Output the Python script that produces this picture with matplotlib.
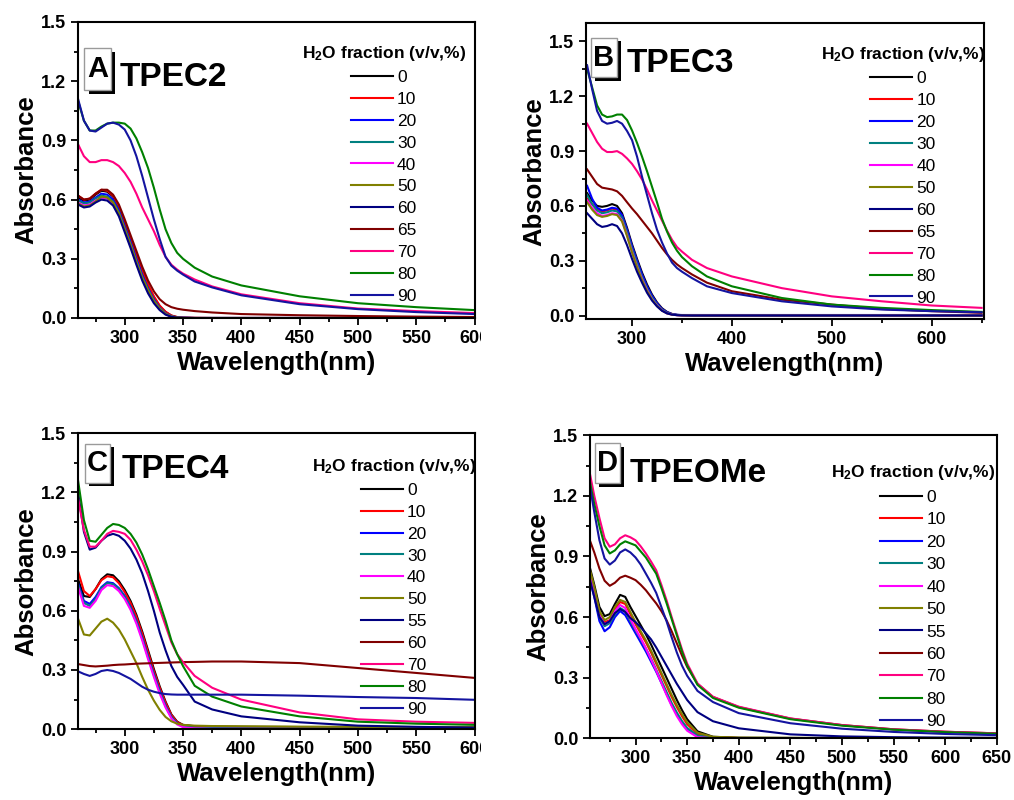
import numpy as np
import matplotlib
matplotlib.use('Agg')
import matplotlib.pyplot as plt
import matplotlib.patheffects as pe
from matplotlib.patches import Rectangle
from matplotlib.ticker import MultipleLocator
from matplotlib.transforms import Bbox

plt.rcParams['font.family'] = ['Liberation Sans', 'DejaVu Sans']
plt.rcParams['mathtext.default'] = 'regular'

# line colours (same order in every panel)
colors = ['#000000', '#FF0000', '#0000FF', '#008080', '#FF00FF', '#808000',
          '#000080', '#800000', '#FF0080', '#008000', '#1414A0']

labels_ab = ['0', '10', '20', '30', '40', '50', '60', '65', '70', '80', '90']
labels_cd = ['0', '10', '20', '30', '40', '50', '55', '60', '70', '80', '90']

# wavelength grids (nm)
wl_ac = [260, 265, 270, 275, 280, 285, 290, 295, 300, 305, 310, 315, 320, 325,
         330, 335, 340, 345, 350, 360, 375, 400, 450, 500, 550, 600]
wl_bd = [255, 260, 265, 270, 275, 280, 285, 290, 295, 300, 305, 310, 315, 320,
         325, 330, 335, 340, 345, 350, 360, 375, 400, 450, 500, 550, 600, 650]

#A TPEC2
a_0 = [0.61, 0.595, 0.60, 0.625, 0.645, 0.64, 0.615, 0.56, 0.48, 0.40, 0.315, 0.235, 0.165, 0.105,
       0.06, 0.03, 0.012, 0.004, 0.001, 0, 0, 0, 0, 0, 0, 0]
a_10 = [0.62, 0.60, 0.605, 0.63, 0.65, 0.645, 0.62, 0.565, 0.485, 0.405, 0.32, 0.24, 0.17, 0.11,
        0.063, 0.032, 0.013, 0.005, 0.002, 0.001, 0, 0, 0, 0, 0, 0]
a_20 = [0.60, 0.585, 0.59, 0.61, 0.63, 0.625, 0.60, 0.545, 0.465, 0.385, 0.30, 0.22, 0.15, 0.095,
        0.052, 0.024, 0.009, 0.003, 0.001, 0, 0, 0, 0, 0, 0, 0]
a_30 = [0.595, 0.58, 0.585, 0.605, 0.62, 0.615, 0.59, 0.535, 0.455, 0.375, 0.29, 0.21, 0.145, 0.09,
        0.05, 0.023, 0.008, 0.003, 0.001, 0, 0, 0, 0, 0, 0, 0]
a_40 = [0.585, 0.57, 0.575, 0.595, 0.61, 0.605, 0.58, 0.525, 0.445, 0.365, 0.28, 0.20, 0.135, 0.083,
        0.045, 0.02, 0.007, 0.002, 0.001, 0, 0, 0, 0, 0, 0, 0]
a_50 = [0.58, 0.565, 0.57, 0.59, 0.615, 0.61, 0.585, 0.53, 0.45, 0.37, 0.285, 0.205, 0.14, 0.086,
        0.047, 0.021, 0.008, 0.003, 0.001, 0, 0, 0, 0, 0, 0, 0]
a_60 = [0.575, 0.56, 0.565, 0.585, 0.60, 0.595, 0.57, 0.515, 0.435, 0.355, 0.27, 0.19, 0.125, 0.075,
        0.04, 0.017, 0.006, 0.002, 0.001, 0, 0, 0, 0, 0, 0, 0]
a_65 = [0.62, 0.60, 0.605, 0.63, 0.65, 0.65, 0.625, 0.575, 0.50, 0.42, 0.34, 0.26, 0.19, 0.135,
        0.095, 0.07, 0.055, 0.047, 0.042, 0.035, 0.028, 0.02, 0.014, 0.01, 0.007, 0.005]
a_70 = [0.88, 0.82, 0.79, 0.79, 0.80, 0.80, 0.79, 0.77, 0.735, 0.69, 0.63, 0.56, 0.50, 0.44,
        0.37, 0.31, 0.27, 0.245, 0.225, 0.195, 0.16, 0.12, 0.075, 0.048, 0.035, 0.025]
a_80 = [1.10, 1.00, 0.95, 0.95, 0.97, 0.985, 0.99, 0.99, 0.985, 0.96, 0.91, 0.84, 0.76, 0.66,
        0.55, 0.45, 0.38, 0.33, 0.30, 0.255, 0.21, 0.165, 0.11, 0.075, 0.055, 0.04]
a_90 = [1.11, 1.00, 0.95, 0.945, 0.965, 0.985, 0.99, 0.98, 0.955, 0.90, 0.82, 0.72, 0.61, 0.50,
        0.40, 0.31, 0.265, 0.24, 0.22, 0.185, 0.155, 0.115, 0.07, 0.045, 0.03, 0.02]

#B TPEC3
b_0 = [0.67, 0.63, 0.60, 0.595, 0.60, 0.61, 0.60, 0.56, 0.48, 0.39, 0.31, 0.235, 0.17, 0.115,
       0.072, 0.04, 0.02, 0.009, 0.004, 0.002, 0.001, 0.001, 0.001, 0.001, 0.001, 0.001, 0.001, 0.001]
b_10 = [0.64, 0.61, 0.58, 0.57, 0.575, 0.585, 0.58, 0.545, 0.465, 0.375, 0.295, 0.22, 0.155, 0.105,
        0.065, 0.035, 0.017, 0.007, 0.003, 0.001, 0, 0, 0, 0, 0, 0, 0, 0]
b_20 = [0.71, 0.64, 0.59, 0.575, 0.58, 0.59, 0.585, 0.55, 0.47, 0.38, 0.30, 0.225, 0.16, 0.108,
        0.067, 0.036, 0.018, 0.008, 0.004, 0.003, 0.003, 0.003, 0.003, 0.003, 0.003, 0.003, 0.003, 0.003]
b_30 = [0.66, 0.61, 0.575, 0.56, 0.565, 0.575, 0.57, 0.535, 0.455, 0.365, 0.285, 0.21, 0.148, 0.098,
        0.06, 0.032, 0.015, 0.006, 0.003, 0.001, 0, 0, 0, 0, 0, 0, 0, 0]
b_40 = [0.63, 0.59, 0.56, 0.545, 0.55, 0.56, 0.555, 0.52, 0.44, 0.35, 0.27, 0.20, 0.14, 0.09,
        0.055, 0.028, 0.012, 0.005, 0.002, 0.001, 0, 0, 0, 0, 0, 0, 0, 0]
b_50 = [0.62, 0.58, 0.55, 0.54, 0.545, 0.555, 0.55, 0.515, 0.435, 0.345, 0.265, 0.195, 0.135, 0.088,
        0.053, 0.027, 0.012, 0.005, 0.002, 0.001, 0, 0, 0, 0, 0, 0, 0, 0]
b_60 = [0.56, 0.53, 0.50, 0.485, 0.49, 0.50, 0.49, 0.45, 0.385, 0.31, 0.24, 0.18, 0.125, 0.082,
        0.05, 0.026, 0.012, 0.005, 0.002, 0.001, 0, 0, 0, 0, 0, 0, 0, 0]
b_65 = [0.80, 0.76, 0.72, 0.70, 0.695, 0.69, 0.68, 0.655, 0.62, 0.586, 0.555, 0.52, 0.485, 0.45,
        0.41, 0.37, 0.335, 0.305, 0.28, 0.26, 0.225, 0.18, 0.133, 0.087, 0.06, 0.036, 0.024, 0.015]
b_70 = [1.05, 1.0, 0.95, 0.913, 0.895, 0.895, 0.90, 0.885, 0.86, 0.83, 0.79, 0.745, 0.69, 0.63,
        0.575, 0.52, 0.465, 0.415, 0.375, 0.35, 0.305, 0.26, 0.214, 0.15, 0.105, 0.078, 0.055, 0.042]
b_80 = [1.35, 1.25, 1.15, 1.10, 1.086, 1.09, 1.10, 1.10, 1.07, 1.013, 0.945, 0.87, 0.79, 0.705,
        0.62, 0.53, 0.46, 0.40, 0.355, 0.32, 0.27, 0.214, 0.16, 0.096, 0.06, 0.042, 0.03, 0.02]
b_90 = [1.37, 1.24, 1.12, 1.065, 1.05, 1.055, 1.065, 1.05, 1.01, 0.96, 0.87, 0.76, 0.66, 0.56,
        0.47, 0.40, 0.34, 0.29, 0.26, 0.24, 0.205, 0.16, 0.123, 0.078, 0.05, 0.033, 0.024, 0.018]

#C TPEC4
c_0 = [0.76, 0.675, 0.67, 0.71, 0.76, 0.785, 0.78, 0.75, 0.705, 0.65, 0.58, 0.495, 0.40, 0.305,
       0.217, 0.14, 0.075, 0.038, 0.022, 0.015, 0.013, 0.012, 0.011, 0.01, 0.01, 0.01]
c_10 = [0.80, 0.70, 0.675, 0.71, 0.755, 0.775, 0.77, 0.74, 0.695, 0.64, 0.57, 0.485, 0.39, 0.295,
        0.21, 0.135, 0.072, 0.036, 0.02, 0.014, 0.012, 0.011, 0.01, 0.01, 0.01, 0.01]
c_20 = [0.74, 0.65, 0.635, 0.67, 0.72, 0.745, 0.74, 0.715, 0.675, 0.62, 0.55, 0.465, 0.37, 0.28,
        0.195, 0.12, 0.062, 0.03, 0.015, 0.008, 0.006, 0.005, 0.004, 0.004, 0.004, 0.004]
c_30 = [0.73, 0.64, 0.625, 0.66, 0.715, 0.74, 0.735, 0.71, 0.67, 0.615, 0.545, 0.46, 0.365, 0.275,
        0.19, 0.117, 0.06, 0.028, 0.014, 0.007, 0.005, 0.004, 0.004, 0.004, 0.004, 0.004]
c_40 = [0.72, 0.625, 0.615, 0.65, 0.705, 0.73, 0.725, 0.70, 0.66, 0.605, 0.535, 0.45, 0.355, 0.265,
        0.18, 0.11, 0.055, 0.024, 0.01, 0.004, 0.002, 0.002, 0.002, 0.002, 0.002, 0.002]
c_50 = [0.56, 0.48, 0.475, 0.51, 0.545, 0.56, 0.54, 0.505, 0.455, 0.395, 0.335, 0.265, 0.20, 0.145,
        0.098, 0.062, 0.04, 0.028, 0.022, 0.018, 0.016, 0.015, 0.013, 0.012, 0.011, 0.01]
c_55 = [1.20, 1.0, 0.91, 0.92, 0.955, 0.98, 0.99, 0.98, 0.955, 0.915, 0.86, 0.79, 0.70, 0.60,
        0.49, 0.40, 0.32, 0.265, 0.225, 0.14, 0.10, 0.065, 0.035, 0.018, 0.012, 0.008]
c_60 = [0.33, 0.325, 0.32, 0.318, 0.32, 0.322, 0.325, 0.327, 0.328, 0.33, 0.332, 0.333, 0.334, 0.335,
        0.336, 0.337, 0.338, 0.339, 0.34, 0.341, 0.343, 0.343, 0.335, 0.31, 0.285, 0.26]
c_70 = [1.17, 1.01, 0.925, 0.925, 0.955, 0.99, 1.005, 1.0, 0.99, 0.96, 0.91, 0.85, 0.78, 0.70,
        0.61, 0.525, 0.44, 0.38, 0.34, 0.27, 0.21, 0.15, 0.085, 0.05, 0.038, 0.032]
c_80 = [1.26, 1.06, 0.955, 0.95, 0.985, 1.02, 1.04, 1.035, 1.02, 0.99, 0.946, 0.885, 0.81, 0.725,
        0.64, 0.55, 0.45, 0.38, 0.32, 0.22, 0.165, 0.115, 0.065, 0.038, 0.028, 0.022]
c_90 = [0.293, 0.28, 0.27, 0.28, 0.295, 0.30, 0.295, 0.285, 0.27, 0.255, 0.235, 0.215, 0.20, 0.19,
        0.183, 0.178, 0.176, 0.175, 0.175, 0.175, 0.175, 0.175, 0.17, 0.163, 0.158, 0.149]

#D TPEOMe
d_0 = [0.86, 0.76, 0.65, 0.605, 0.615, 0.665, 0.71, 0.70, 0.65, 0.605, 0.56, 0.515, 0.465, 0.41,
       0.355, 0.30, 0.245, 0.19, 0.14, 0.095, 0.035, 0.008, 0.003, 0.002, 0.001, 0.001, 0.001, 0.001]
d_10 = [0.84, 0.74, 0.62, 0.575, 0.585, 0.635, 0.675, 0.665, 0.615, 0.565, 0.52, 0.475, 0.425, 0.37,
        0.315, 0.26, 0.205, 0.155, 0.11, 0.07, 0.022, 0.005, 0.002, 0.001, 0.001, 0.001, 0.001, 0.001]
d_20 = [0.80, 0.70, 0.58, 0.53, 0.55, 0.60, 0.63, 0.61, 0.565, 0.52, 0.475, 0.43, 0.38, 0.33,
        0.275, 0.22, 0.165, 0.12, 0.08, 0.048, 0.012, 0.003, 0.001, 0.001, 0.001, 0.001, 0.001, 0.001]
d_30 = [0.82, 0.72, 0.60, 0.555, 0.57, 0.615, 0.645, 0.63, 0.58, 0.535, 0.49, 0.445, 0.395, 0.34,
        0.285, 0.23, 0.175, 0.128, 0.086, 0.052, 0.014, 0.003, 0.001, 0.001, 0.001, 0.001, 0.001, 0.001]
d_40 = [0.83, 0.73, 0.61, 0.565, 0.58, 0.63, 0.66, 0.645, 0.59, 0.54, 0.495, 0.445, 0.39, 0.335,
        0.275, 0.215, 0.16, 0.11, 0.07, 0.038, 0.006, 0.001, 0, 0, 0, 0, 0, 0]
d_50 = [0.85, 0.75, 0.63, 0.585, 0.60, 0.65, 0.685, 0.675, 0.625, 0.575, 0.53, 0.485, 0.435, 0.38,
        0.325, 0.27, 0.215, 0.165, 0.12, 0.08, 0.028, 0.008, 0.004, 0.003, 0.002, 0.002, 0.002, 0.002]
d_55 = [0.80, 0.70, 0.60, 0.565, 0.58, 0.62, 0.64, 0.625, 0.595, 0.575, 0.55, 0.52, 0.49, 0.45,
        0.405, 0.36, 0.315, 0.27, 0.23, 0.19, 0.13, 0.085, 0.05, 0.02, 0.01, 0.006, 0.004, 0.003]
d_60 = [0.99, 0.92, 0.84, 0.78, 0.755, 0.77, 0.795, 0.805, 0.795, 0.783, 0.76, 0.733, 0.70, 0.668,
        0.63, 0.585, 0.53, 0.47, 0.41, 0.354, 0.27, 0.205, 0.155, 0.098, 0.066, 0.045, 0.033, 0.025]
d_70 = [1.33, 1.20, 1.09, 0.99, 0.948, 0.96, 0.99, 1.005, 0.995, 0.98, 0.95, 0.915, 0.875, 0.832,
        0.76, 0.684, 0.60, 0.52, 0.44, 0.37, 0.272, 0.206, 0.157, 0.099, 0.066, 0.045, 0.033, 0.025]
d_80 = [1.29, 1.16, 1.05, 0.955, 0.915, 0.93, 0.96, 0.975, 0.965, 0.955, 0.925, 0.895, 0.855, 0.815,
        0.745, 0.67, 0.59, 0.51, 0.43, 0.36, 0.265, 0.20, 0.152, 0.095, 0.063, 0.043, 0.031, 0.023]
d_90 = [1.27, 1.12, 0.98, 0.89, 0.86, 0.88, 0.92, 0.935, 0.92, 0.895, 0.86, 0.815, 0.77, 0.72,
        0.65, 0.58, 0.50, 0.425, 0.36, 0.31, 0.235, 0.18, 0.125, 0.075, 0.048, 0.032, 0.022, 0.016]

a_curves = [a_0, a_10, a_20, a_30, a_40, a_50, a_60, a_65, a_70, a_80, a_90]
b_curves = [b_0, b_10, b_20, b_30, b_40, b_50, b_60, b_65, b_70, b_80, b_90]
c_curves = [c_0, c_10, c_20, c_30, c_40, c_50, c_55, c_60, c_70, c_80, c_90]
d_curves = [d_0, d_10, d_20, d_30, d_40, d_50, d_55, d_60, d_70, d_80, d_90]


def draw_panel(rect, wl, curves, labels, letter, name, xlim, ylim, xmaj, xmin,
               box, name_pos, leg_pos, spacing=0.39, clip_right=None):
    ax = fig.add_axes(rect)
    for y, c, lab in zip(curves, colors, labels):
        ax.plot(wl, y, color=c, lw=1.5, label=lab)
    ax.set_xlim(xlim)
    ax.set_ylim(ylim)
    ax.xaxis.set_major_locator(MultipleLocator(xmaj))
    ax.xaxis.set_minor_locator(MultipleLocator(xmin))
    ax.yaxis.set_minor_locator(MultipleLocator(0.15))
    ax.set_yticks(np.arange(0, 1.51, 0.3))
    ax.yaxis.set_major_formatter(plt.FormatStrFormatter('%.1f'))
    ax.tick_params(which='both', direction='out', top=False, right=False, width=1.3)
    ax.tick_params(which='major', length=5, labelsize=13)
    ax.tick_params(which='minor', length=3)
    for lab in ax.get_xticklabels() + ax.get_yticklabels():
        lab.set_fontweight('bold')
    for s in ax.spines.values():
        s.set_linewidth(1.5)
    ax.set_xlabel('Wavelength(nm)', fontsize=18.5, fontweight='bold', labelpad=3)
    ax.set_ylabel('Absorbance', fontsize=18.5, fontweight='bold', labelpad=2)

    # letter in a shadowed box
    r = Rectangle((box[0], box[1]), box[2], box[3], transform=ax.transAxes,
                  fc='white', ec='#9a9a9a', lw=1, zorder=5)
    r.set_path_effects([pe.SimplePatchShadow(offset=(3, -2.5), shadow_rgbFace='k', alpha=1),
                        pe.Normal()])
    ax.add_patch(r)
    ax.text(box[0] + box[2] / 2, box[1] + box[3] / 2, letter, transform=ax.transAxes,
            ha='center', va='center', fontsize=21, fontweight='bold', zorder=6)
    ax.text(name_pos[0], name_pos[1], name, transform=ax.transAxes, ha='left',
            va='baseline', fontsize=24, fontweight='bold', zorder=6)

    ax.legend(loc='upper center', bbox_to_anchor=leg_pos, frameon=False,
              title='H$_2$O fraction (v/v,%)',
              title_fontproperties={'weight': 'bold', 'size': 12.5},
              fontsize=12.5, handlelength=2.4, handletextpad=0.25,
              labelspacing=spacing, borderpad=0, borderaxespad=0)

    if clip_right is not None:
        # last tick label is cut by the picture edge in the original
        cb = Bbox.from_extents(0, 0, clip_right, 800)
        for lab in ax.get_xticklabels():
            lab.set_clip_box(cb)
            lab.set_clip_on(True)
    return ax


fig = plt.figure(figsize=(10.14, 8), dpi=100)

draw_panel([0.077, 0.6025, 0.391, 0.37], wl_ac, a_curves, labels_ab, 'A', 'TPEC2',
           (260, 600), (0, 1.5), 50, 25, (0.016, 0.770, 0.066, 0.141), (0.106, 0.784),
           (0.771, 0.926), clip_right=481)
draw_panel([0.578, 0.601, 0.392, 0.370], wl_bd, b_curves, labels_ab, 'B', 'TPEC3',
           (254, 652), (-0.02, 1.6), 100, 50, (0.012, 0.817, 0.065, 0.133), (0.103, 0.835),
           (0.797, 0.925))
draw_panel([0.077, 0.0885, 0.391, 0.370], wl_ac, c_curves, labels_cd, 'C', 'TPEC4',
           (260, 600), (0, 1.5), 50, 25, (0.018, 0.832, 0.063, 0.133), (0.111, 0.847),
           (0.796, 0.920), clip_right=481)
draw_panel([0.582, 0.077, 0.401, 0.379], wl_bd, d_curves, labels_cd, 'D', 'TPEOMe',
           (256, 650), (0, 1.5), 50, 25, (0.011, 0.841, 0.063, 0.132), (0.098, 0.846),
           (0.794, 0.907), spacing=0.42)

fig.savefig('out.png', dpi=100)
